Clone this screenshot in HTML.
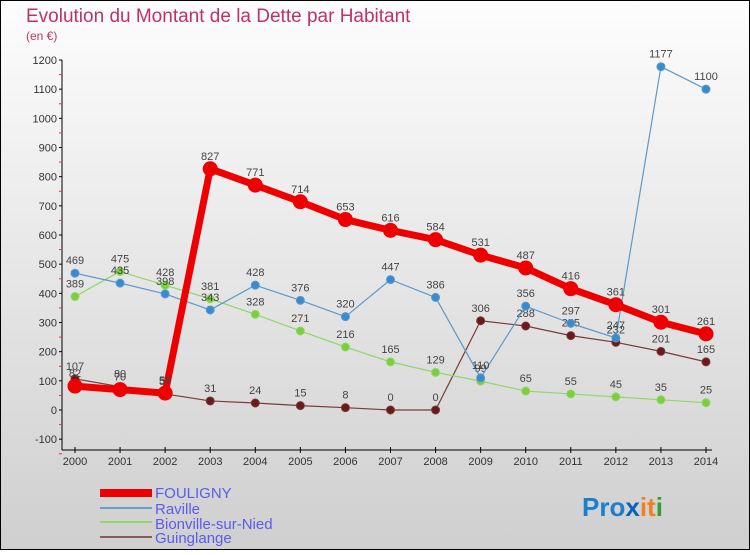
<!DOCTYPE html>
<html><head><meta charset="utf-8"><style>
html,body{margin:0;padding:0}
body{width:750px;height:550px;overflow:hidden;font-family:"Liberation Sans",sans-serif}
</style></head><body>
<svg id="chart" width="750" height="550" xmlns="http://www.w3.org/2000/svg" font-family="Liberation Sans, sans-serif">
<defs><linearGradient id="bg" x1="0" y1="0" x2="0" y2="1"><stop offset="0" stop-color="#fdfdfd"/><stop offset="1" stop-color="#cfcfcf"/></linearGradient></defs>
<rect x="0.5" y="0.5" width="749" height="549" fill="url(#bg)" stroke="#000"/>
<text x="26" y="22" font-size="19" fill="#c0306b">Evolution du Montant de la Dette par Habitant</text>
<text x="26" y="40" font-size="12" fill="#c0306b">(en €)</text>
<g id="axes"></g>
<g id="series"></g>
<g>
<rect x="100" y="489" width="52" height="8" fill="#e00"/>
<text x="155" y="498" font-size="15" fill="#5b5bf0">FOULIGNY</text>
<rect x="100" y="507" width="52" height="2" fill="#6a9ec8"/>
<text x="155" y="514" font-size="15" fill="#5b5bf0">Raville</text>
<rect x="100" y="521" width="52" height="2" fill="#8fd86a"/>
<text x="155" y="529" font-size="15" fill="#5b5bf0">Bionville-sur-Nied</text>
<rect x="100" y="536" width="52" height="2" fill="#8a5a5a"/>
<text x="155" y="543" font-size="15" fill="#5b5bf0">Guinglange</text>
</g>
<text x="582" y="516" font-size="26" font-weight="bold"><tspan fill="#1a7fd0">Pro</tspan><tspan fill="#0a60c0">x</tspan><tspan fill="#f08020">it</tspan><tspan fill="#30a030">i</tspan></text>
</svg>
<script>
const years=[2000,2001,2002,2003,2004,2005,2006,2007,2008,2009,2010,2011,2012,2013,2014];
const yTicks=[-100,0,100,200,300,400,500,600,700,800,900,1000,1100,1200];
const fouligny=[82,70,58,827,771,714,653,616,584,531,487,416,361,301,261];
const raville=[469,435,398,343,428,376,320,447,386,110,356,297,247,1177,1100];
const bionville=[389,475,428,381,328,271,216,165,129,99,65,55,45,35,25];
const guinglange=[107,80,55,31,24,15,8,0,0,306,288,255,232,201,165];
const NS="http://www.w3.org/2000/svg";
const xS=i=>75+i*(631/14);
const yS=v=>410-v*(350/1200);
function mk(tag,attrs,parent,text){const e=document.createElementNS(NS,tag);for(const k in attrs)e.setAttribute(k,attrs[k]);if(text!==undefined)e.textContent=text;parent.appendChild(e);return e;}
const ax=document.getElementById('axes');
const yl=mk('line',{x1:62,y1:yS(1200),x2:62,y2:450,stroke:'#000'},ax);


const xl=mk('line',{x1:62,y1:450,x2:712,y2:450,stroke:'#000'},ax);


yTicks.forEach(t=>{
 const y=yS(t);
 mk('line',{x1:59,y1:y,x2:62,y2:y,stroke:'#000'},ax);
 mk('line',{x1:59,y1:y+14.6,x2:62,y2:y+14.6,stroke:'#e33'},ax);
 const tx=mk('text',{x:57,y:y+4,'font-size':11,'text-anchor':'end',fill:'#333'},ax,String(t));
 
 
});
years.forEach((yr,i)=>{
 const x=xS(i);
 mk('line',{x1:x,y1:447,x2:x,y2:453,stroke:'#000'},ax);
 const tx=mk('text',{x:x,y:465,'font-size':11,'text-anchor':'middle',fill:'#333'},ax,String(yr));
 
 
});
const sg=document.getElementById('series');
function draw(name,vals,color,w,r,dot){
 const g=mk('g',{},sg);
 
 
 const pts=vals.map((v,i)=>xS(i)+','+yS(v)).join(' ');
 const pl=mk('polyline',{points:pts,fill:'none',stroke:color,'stroke-width':w,'stroke-linejoin':'round'},g);
 
 
 vals.forEach((v,i)=>{
  const c=mk('circle',{cx:xS(i),cy:yS(v),r:r,fill:dot,stroke:color,'stroke-width':1},g);
  
  
  const t=mk('text',{x:xS(i),y:yS(v)-9,'font-size':11,'text-anchor':'middle',fill:'#444'},g,String(v));
  
  
 });
}
draw('guinglange',guinglange,'#7a3a3a',1.2,4,'#6a1a1a');
draw('bionville',bionville,'#8fd86a',1.2,4,'#7ccf3a');
draw('raville',raville,'#5a9acb',1.2,4,'#3a8ad0');
draw('fouligny',fouligny,'#ee0000',7,7,'#ee0000');
</script>
</body></html>
